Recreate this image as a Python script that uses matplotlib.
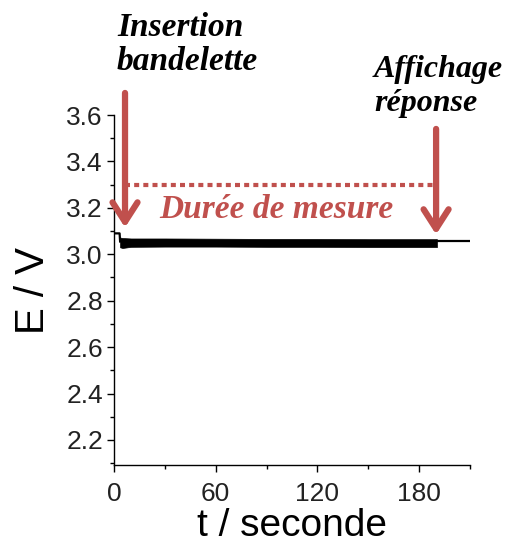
import matplotlib
matplotlib.use("Agg")
import matplotlib.pyplot as plt
from matplotlib.patches import FancyArrowPatch
from matplotlib.ticker import MultipleLocator

# Potential of the meter during a measurement
t_before = [0, 3.3, 3.6]
e_before = [3.09, 3.09, 3.055]

# Noisy plateau while the strip is being read (upper / lower envelope)
t_band = [3.6, 5, 10, 30, 60, 90, 120, 150, 180, 190.5]
e_band_hi = [3.072, 3.07, 3.068, 3.068, 3.067, 3.066, 3.066, 3.065, 3.065, 3.065]
e_band_lo = [3.03, 3.027, 3.032, 3.033, 3.033, 3.032, 3.032, 3.031, 3.031, 3.031]

t_after = [190.5, 210]
e_after = [3.057, 3.057]

# Annotation positions (time in s, potential in V)
t_insert, e_insert_top, e_insert_tip = 6.5, 3.695, 3.115
t_display, e_display_top, e_display_tip = 190, 3.54, 3.085
t_span = [6.5, 188]
e_span = 3.30

x_ticks = [0, 60, 120, 180]
y_ticks = [2.2, 2.4, 2.6, 2.8, 3.0, 3.2, 3.4, 3.6]

red = "#C0504D"

fig = plt.figure(figsize=(5.07, 5.49), dpi=100)
ax = fig.add_axes([114 / 507, 1 - 465 / 549, (470 - 114) / 507, (465 - 115) / 549])

ax.plot(t_before, e_before, color="black", lw=1.6)
ax.fill_between(t_band, e_band_lo, e_band_hi, color="black", lw=0.5)
ax.plot(t_after, e_after, color="black", lw=1.6)

ax.set_xlim(0, 210)
ax.set_ylim(2.092, 3.6)
ax.set_xticks(x_ticks)
ax.set_yticks(y_ticks)
ax.xaxis.set_minor_locator(MultipleLocator(30))
ax.yaxis.set_minor_locator(MultipleLocator(0.1))
ax.spines["top"].set_visible(False)
ax.spines["right"].set_visible(False)
for s in ("left", "bottom"):
    ax.spines[s].set_linewidth(1.0)
ax.tick_params(which="both", direction="out", width=1.0)
ax.tick_params(which="major", length=5, labelsize=19, pad=3)
ax.tick_params(axis="x", which="major", pad=7)
ax.tick_params(which="minor", length=3)
for lab in ax.get_xticklabels() + ax.get_yticklabels():
    lab.set_fontfamily("Liberation Sans")
    lab.set_color("#222222")

ax.set_ylabel("E / V", fontsize=29, family="Liberation Sans", labelpad=10)
ax.set_xlabel("t / seconde", fontsize=28, family="Liberation Sans", labelpad=2)

# Dotted span marking the measurement duration
ax.plot(t_span, [e_span, e_span], color=red, lw=3, dashes=(1.2, 1.0),
        solid_capstyle="butt", clip_on=False)


def arrow(t, e_top, e_tip):
    p = FancyArrowPatch((t, e_top), (t, e_tip), arrowstyle="->,head_length=14,head_width=9",
                        mutation_scale=1, color=red, lw=4.5, capstyle="round",
                        joinstyle="round", shrinkA=0, shrinkB=0, clip_on=False,
                        zorder=5)
    ax.add_patch(p)


arrow(t_insert, e_insert_top, e_insert_tip)
arrow(t_display, e_display_top, e_display_tip)

serif = "Liberation Serif"
fig.text(117 / 507, 1 - 12 / 549, "Insertion\nbandelette", ha="left", va="top",
         fontsize=24, family=serif, style="italic", weight="bold",
         linespacing=1.12)
fig.text(374 / 507, 1 - 55 / 549, "Affichage\nréponse", ha="left", va="top",
         fontsize=23, family=serif, style="italic", weight="bold",
         linespacing=1.22)
fig.text(276 / 507, 1 - 210 / 549, "Durée de mesure", ha="center", va="center",
         fontsize=24, family=serif, style="italic", weight="bold", color=red)

fig.savefig("out.png", dpi=100)
